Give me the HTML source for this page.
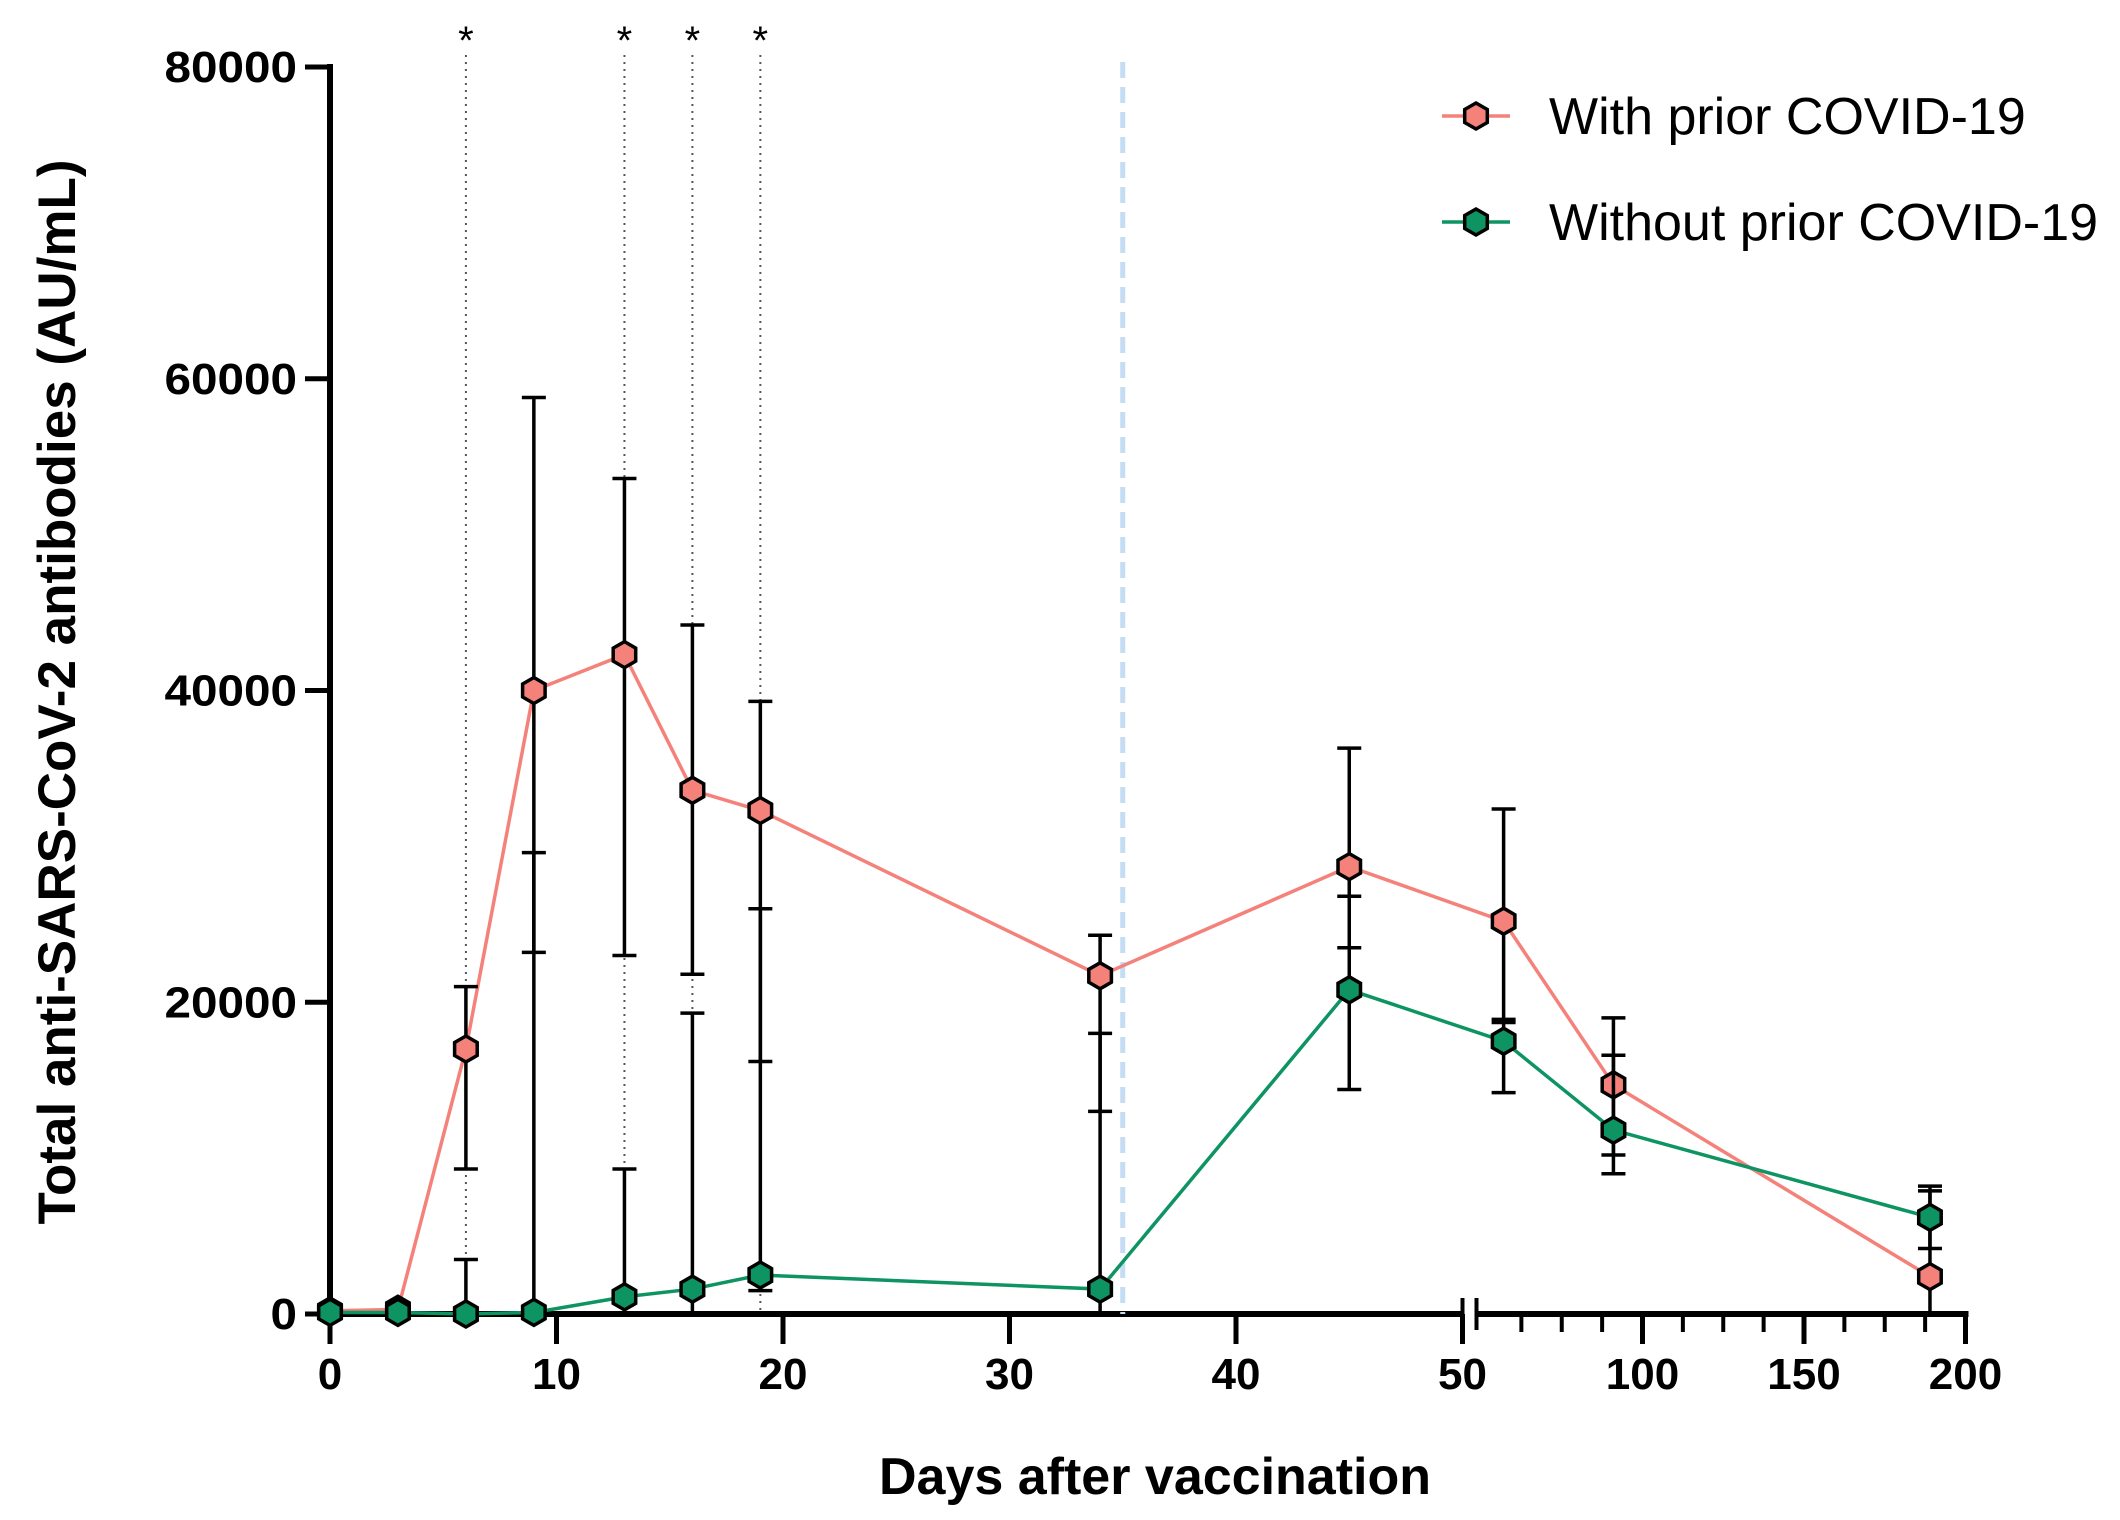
<!DOCTYPE html>
<html><head><meta charset="utf-8"><style>
html,body{margin:0;padding:0;background:#fff;}
svg{display:block;font-family:"Liberation Sans",Arial,sans-serif;}
</style></head><body>
<svg id="chart" width="2120" height="1520" viewBox="0 0 2120 1520" xmlns="http://www.w3.org/2000/svg"></svg>
<script>
const days = [0, 3, 6, 9, 13, 16, 19, 34, 45, 57, 91, 189];
const withPrior = [200, 300, 17000, 40000, 42300, 33600, 32300, 21700, 28700, 25200, 14700, 2400];
const withPriorUpper = [200, 300, 21000, 58800, 53600, 44200, 39300, 24300, 36300, 32400, 19000, 8200];
const withPriorLower = [200, 300, 9300, 23200, 23000, 21800, 16200, 13000, 23500, 18700, 10200, 0];
const withoutPrior = [100, 100, 0, 100, 1100, 1600, 2500, 1600, 20800, 17500, 11800, 6200];
const withoutPriorUpper = [100, 100, 3500, 29600, 9300, 19300, 26000, 18000, 26800, 18900, 16600, 7900];
const withoutPriorLower = [0, 0, 0, 0, 0, 0, 1500, 0, 14400, 14200, 9000, 4200];
const yTicks = [0, 20000, 40000, 60000, 80000];
const xTicks1 = [0, 10, 20, 30, 40, 50];
const xTicks2 = [100, 150, 200];
const sigDays = [6, 13, 16, 19];
const boosterDay = 35;

const NS = "http://www.w3.org/2000/svg";
const svg = document.getElementById('chart');
function el(tag, attrs, parent) {
  const e = document.createElementNS(NS, tag);
  for (const k in attrs) e.setAttribute(k, attrs[k]);
  (parent || svg).appendChild(e);
  return e;
}
const Y0 = 1314, Y1 = 67;
function yS(v) { return Y0 - (v / 80000) * (Y0 - Y1); }
function xS(d) {
  if (d <= 50) return 330 + d * 22.65;
  return 1481 + (d - 50) * 3.23;
}

const yAxis = el('line', {x1: 330, y1: 64, x2: 330, y2: Y0 + 3, stroke: '#000', 'stroke-width': 6});


yTicks.forEach(v => {
  const t = el('line', {x1: 305, y1: yS(v), x2: 330, y2: yS(v), stroke: '#000', 'stroke-width': 5});
  
  
  const l = el('text', {x: 297, y: yS(v) + 15, 'text-anchor': 'end', 'font-size': 44, 'font-weight': 'bold', 'font-stretch': 'expanded'});
  l.textContent = v;
  const w = String(v).length * 26.5;
  l.setAttribute('textLength', w);
  l.setAttribute('lengthAdjust', 'spacingAndGlyphs');
  
  
});
const brk = xS(50);
const xa1 = el('line', {x1: 327, y1: Y0, x2: brk + 2, y2: Y0, stroke: '#000', 'stroke-width': 6});


const xa2 = el('line', {x1: brk + 14, y1: Y0, x2: xS(200) + 3, y2: Y0, stroke: '#000', 'stroke-width': 6});


[brk, brk + 14].forEach(x => {
  const b = el('line', {x1: x, y1: Y0 - 16, x2: x, y2: Y0 + 16, stroke: '#000', 'stroke-width': 4});
  
  
});
xTicks1.concat(xTicks2).forEach(d => {
  const x = xS(d);
  const t = el('line', {x1: x, y1: Y0, x2: x, y2: Y0 + 30, stroke: '#000', 'stroke-width': 5});
  
  
  const l = el('text', {x: x, y: Y0 + 75, 'text-anchor': 'middle', 'font-size': 44, 'font-weight': 'bold'});
  l.textContent = d;
  
  
});
for (let d = 62.5; d < 200; d += 12.5) {
  if (d % 50 === 0) continue;
  const t = el('line', {x1: xS(d), y1: Y0, x2: xS(d), y2: Y0 + 18, stroke: '#000', 'stroke-width': 4});
  
  
}
const xt = el('text', {x: 1155, y: 1494, 'text-anchor': 'middle', 'font-size': 52, 'font-weight': 'bold'});
xt.textContent = 'Days after vaccination';


const yt = el('text', {x: 0, y: 0, 'text-anchor': 'middle', 'font-size': 53, 'font-weight': 'bold', transform: 'translate(75,692) rotate(-90)'});
yt.textContent = 'Total anti-SARS-CoV-2 antibodies (AU/mL)';



sigDays.forEach(d => {
  const ln = el('line', {x1: xS(d), y1: 55, x2: xS(d), y2: Y0, stroke: '#555', 'stroke-width': 2, 'stroke-dasharray': '2 5'});
  
  
  const s = el('text', {x: xS(d), y: 54, 'text-anchor': 'middle', 'font-size': 40});
  s.textContent = '*';
  
  
});
const bl = el('line', {x1: xS(boosterDay), y1: 62, x2: xS(boosterDay), y2: Y0, stroke: '#c5dcf5', 'stroke-width': 5, 'stroke-dasharray': '16 9'});



function hex(cx, cy, r, fill, parent) {
  const pts = [];
  for (let i = 0; i < 6; i++) {
    const a = Math.PI / 180 * (60 * i - 90);
    pts.push((cx + r * Math.cos(a)).toFixed(1) + ',' + (cy + r * Math.sin(a)).toFixed(1));
  }
  return el('polygon', {points: pts.join(' '), fill: fill, stroke: '#000', 'stroke-width': 3.5}, parent);
}
function series(vals, up, lo, color, name) {
  const g = el('g', {});
  
  
  const pts = days.map((d, i) => xS(d) + ',' + yS(vals[i])).join(' ');
  const pl = el('polyline', {points: pts, fill: 'none', stroke: color, 'stroke-width': 3.5}, g);
  
  
  days.forEach((d, i) => {
    const x = xS(d);
    const eb = el('path', {d: `M${x},${yS(up[i])}V${yS(lo[i])}M${x-12},${yS(up[i])}H${x+12}M${x-12},${yS(lo[i])}H${x+12}`, stroke: '#000', 'stroke-width': 3.5, fill: 'none'}, g);
    
    
  });
  days.forEach((d, i) => {
    const m = hex(xS(d), yS(vals[i]), 13, color, g);
    
    
  });
}
series(withPrior, withPriorUpper, withPriorLower, '#f4827a', 'with-prior');
series(withoutPrior, withoutPriorUpper, withoutPriorLower, '#0e9463', 'without-prior');

[['With prior COVID-19', '#f4827a', 116, 'legend-with-prior'], ['Without prior COVID-19', '#0e9463', 222, 'legend-without-prior']].forEach(r => {
  const g = el('g', {});
  
  
  el('line', {x1: 1442, y1: r[2], x2: 1510, y2: r[2], stroke: r[1], 'stroke-width': 3.5}, g);
  hex(1476, r[2], 13, r[1], g);
  const t = el('text', {x: 1549, y: r[2] + 18, 'font-size': 52}, g);
  t.textContent = r[0];
});
</script>
</body></html>
